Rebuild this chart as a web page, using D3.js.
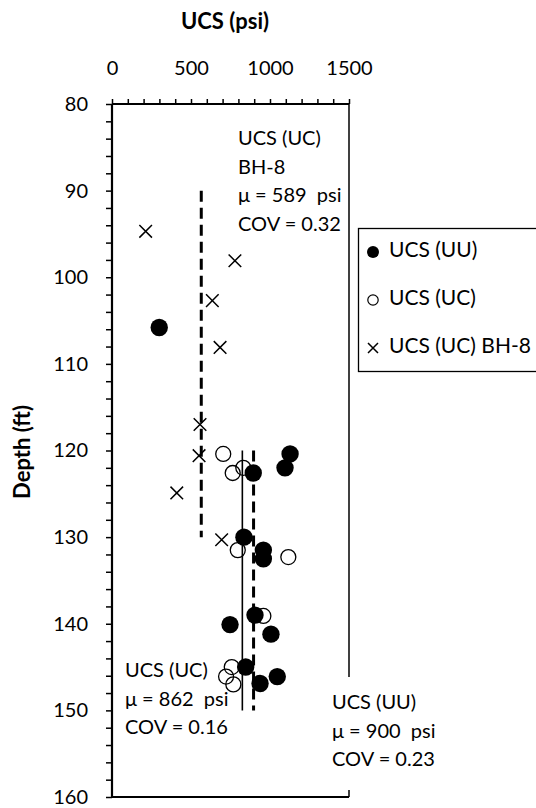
<!DOCTYPE html>
<html><head><meta charset="utf-8">
<script src="https://cdn.jsdelivr.net/npm/d3@7"></script>
<style>body{margin:0;background:#fff}svg{display:block}text{font-family:Lato,"Liberation Sans",sans-serif;fill:#000}</style>
</head><body><svg id="c" width="536" height="808"></svg>
<script>
// UCS (UU) filled circles: [psi, depth ft]
const uuPsi   = [299,1127,1095,894,835,958,958,905,747,1006,846,1046,937];
const uuDepth = [105.8,120.4,122.0,122.6,130.0,131.5,132.5,139.0,140.1,141.2,145.0,146.1,146.9];
// UCS (UC) open circles
const ucPsi   = [704,831,764,796,1116,958,758,722,768];
const ucDepth = [120.4,122.0,122.6,131.5,132.3,139.1,145.0,146.1,147.0];
// UCS (UC) BH-8 crosses
const bhPsi   = [213,778,635,684,557,551,410,694];
const bhDepth = [94.7,98.1,102.7,108.1,117.0,120.6,124.9,130.3];
// mean lines (psi, depth from, depth to)
const meanNames = ["BH-8","UC","UU"];
const meanPsi   = [565,825,896];
const meanFrom  = [90,120,120];
const meanTo    = [130,150,150];
const xTickLabels = [0,500,1000,1500];
const yTickLabels = [80,90,100,110,120,130,140,150,160];
const legendLabels = ["UCS (UU)","UCS (UC)","UCS (UC) BH-8"];

const svg = d3.select("#c");
const x = d3.scaleLinear().domain([0,1500]).range([112,349]);
const y = d3.scaleLinear().domain([80,160]).range([104,797]);
const FS = 20;

// minor/major ticks top
const gTop = svg.append("g").attr("transform",`translate(0,${y(80)})`);
gTop.call(d3.axisTop(x).tickValues(d3.range(0,1501,100)).tickSize(5).tickFormat(""));
gTop.select(".domain").remove();
gTop.selectAll("line").attr("stroke","#000").attr("stroke-width",1.5);
const gTopL = svg.append("g").attr("transform",`translate(0,${y(80)})`);
gTopL.call(d3.axisTop(x).tickValues(xTickLabels).tickSize(0).tickPadding(29).tickFormat(d3.format("d")));
gTopL.select(".domain").remove();
gTopL.selectAll("text").attr("font-size",FS).attr("font-family","Lato");

// left ticks
const gL = svg.append("g").attr("transform",`translate(${x(0)},0)`);
gL.call(d3.axisLeft(y).tickValues(d3.range(80,161,2)).tickSize(6).tickFormat(""));
gL.select(".domain").remove();
gL.selectAll("line").attr("stroke","#000").attr("stroke-width",1.5);
const gLL = svg.append("g").attr("transform",`translate(${x(0)},0)`);
gLL.call(d3.axisLeft(y).tickValues(yTickLabels).tickSize(0).tickPadding(24).tickFormat(d3.format("d")));
gLL.select(".domain").remove();
gLL.selectAll("text").attr("font-size",FS).attr("font-family","Lato");

// frame
svg.append("line").attr("x1",x(0)).attr("x2",x(1500)).attr("y1",y(80)).attr("y2",y(80)).attr("stroke","#000").attr("stroke-width",2);
svg.append("line").attr("x1",x(0)).attr("x2",x(0)).attr("y1",y(80)).attr("y2",y(160)).attr("stroke","#000").attr("stroke-width",2.2);
svg.append("line").attr("x1",x(0)).attr("x2",x(1500)).attr("y1",y(160)).attr("y2",y(160)).attr("stroke","#000").attr("stroke-width",2);
svg.append("line").attr("x1",x(1500)).attr("x2",x(1500)).attr("y1",y(80)).attr("y2",y(160)).attr("stroke","#000").attr("stroke-width",1.5);

// titles
svg.append("text").attr("x",225).attr("y",29).attr("text-anchor","middle").attr("font-size",22).attr("font-weight","bold").text("UCS (psi)");
svg.append("text").attr("transform","translate(30,452) rotate(-90)").attr("text-anchor","middle").attr("font-size",22).attr("font-weight","bold").text("Depth (ft)");

// mean lines
meanNames.forEach((n,i)=>{
  svg.append("line").attr("x1",x(meanPsi[i])).attr("x2",x(meanPsi[i]))
    .attr("y1",y(meanFrom[i])).attr("y2",y(meanTo[i])).attr("stroke","#000")
    .attr("stroke-width", n==="UC"?1.6:3).attr("stroke-dasharray", n==="UC"?null:"11,6");
});

// points
const uu = uuPsi.map((v,i)=>[v,uuDepth[i]]);
const uc = ucPsi.map((v,i)=>[v,ucDepth[i]]);
const bh = bhPsi.map((v,i)=>[v,bhDepth[i]]);
function cross(g,cx,cy,s){
  g.append("path").attr("d",`M${cx-s},${cy-s}L${cx+s},${cy+s}M${cx-s},${cy+s}L${cx+s},${cy-s}`)
   .attr("stroke","#000").attr("stroke-width",1.5).attr("fill","none");
}
const gp = svg.append("g");
bh.forEach(d=>cross(gp,x(d[0]),y(d[1]),6.3));
gp.selectAll("circle.uc").data(uc).join("circle").attr("class","uc")
  .attr("cx",d=>x(d[0])).attr("cy",d=>y(d[1])).attr("r",7.5).attr("fill","none").attr("stroke","#000").attr("stroke-width",1.3);
gp.selectAll("circle.uu").data(uu).join("circle").attr("class","uu")
  .attr("cx",d=>x(d[0])).attr("cy",d=>y(d[1])).attr("r",8.7).attr("fill","#000");

// annotations
function block(x0,y0,lines){
  lines.forEach((t,i)=>svg.append("text").attr("x",x0).attr("y",y0+i*28.5).attr("font-size",FS)
    .attr("dominant-baseline","middle").style("white-space","pre").text(t));
}
block(238,140,["UCS (UC)","BH-8","\u03bc = 589  psi","COV = 0.32"]);
block(125,672,["UCS (UC)","\u03bc = 862  psi","COV = 0.16"]);
svg.append("rect").attr("x",326).attr("y",677).attr("width",120).attr("height",113).attr("fill","#fff");
block(332,704,["UCS (UU)","\u03bc = 900  psi","COV = 0.23"]);

// legend
svg.append("rect").attr("x",358.5).attr("y",228.5).attr("width",200).attr("height",143).attr("fill","#fff").attr("stroke","#000").attr("stroke-width",1.3);
const ly = [252,300,348];
svg.append("circle").attr("cx",373).attr("cy",ly[0]).attr("r",6).attr("fill","#000");
svg.append("circle").attr("cx",373).attr("cy",ly[1]).attr("r",5.2).attr("fill","none").attr("stroke","#000").attr("stroke-width",1.2);
cross(svg,373,ly[2],5);
legendLabels.forEach((t,i)=>svg.append("text").attr("x",389).attr("y",ly[i]).attr("dominant-baseline","middle").attr("font-size",21).text(t));
</script></body></html>
